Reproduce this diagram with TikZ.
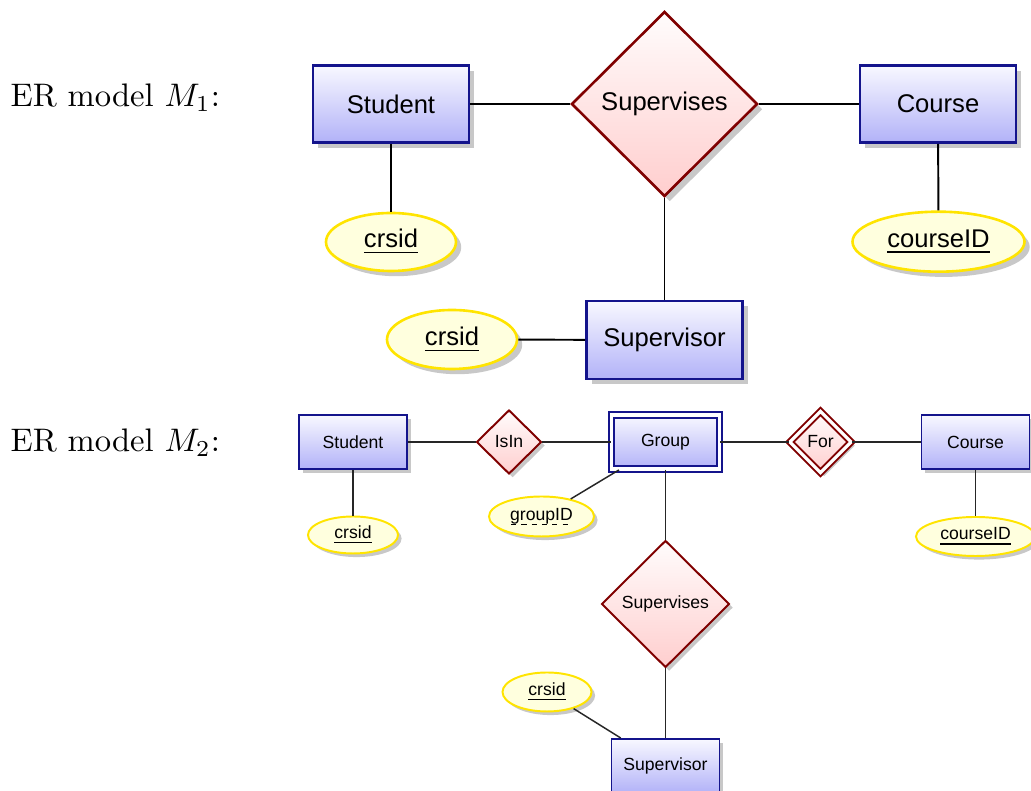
\documentclass[tikz,border=0pt]{standalone}
\usepackage{fontspec}
\newfontfamily\erfont{Liberation Sans}
\usetikzlibrary{shapes.geometric,shadows}
\newcommand\pxu{0.3067pt}
\newcommand\dul[1]{\setbox0\hbox{#1}\rlap{\raisebox{-1.5pt}{\hbox to \wd0{\xleaders\hbox{\rule{1.6pt}{0.3pt}\hspace{1.3pt}}\hfill}}}\box0}
\definecolor{entborder}{RGB}{20,20,140}
\definecolor{enttop}{RGB}{248,248,255}
\definecolor{entbot}{RGB}{178,178,248}
\definecolor{relborder}{RGB}{128,0,0}
\definecolor{reltop}{RGB}{255,252,252}
\definecolor{relbot}{RGB}{255,206,206}
\definecolor{attborder}{RGB}{255,228,0}
\definecolor{attfill}{RGB}{255,255,222}
\definecolor{shadowgrey}{RGB}{200,200,200}
\tikzset{
  bigfont/.style={font=\erfont\fontsize{7.85}{9}\selectfont},
  smallfont/.style={font=\erfont\fontsize{5.4}{6.5}\selectfont},
  bigshadow/.style={drop shadow={shadow xshift=1.6pt,shadow yshift=-1.6pt,fill=shadowgrey,opacity=1}},
  smallshadow/.style={drop shadow={shadow xshift=1.1pt,shadow yshift=-1.1pt,fill=shadowgrey,opacity=1}},
  entity/.style={rectangle,draw=entborder,top color=enttop,bottom color=entbot,inner sep=0pt},
  rel/.style={diamond,draw=relborder,top color=reltop,bottom color=relbot,inner sep=0pt},
  attr/.style={ellipse,draw=attborder,fill=attfill,inner sep=0pt},
  bigent/.style={entity,bigfont,bigshadow,line width=0.8pt,minimum width=156*\pxu,minimum height=77*\pxu},
  smallent/.style={entity,smallfont,smallshadow,line width=0.6pt,minimum width=108*\pxu,minimum height=54*\pxu},
  bigrel/.style={rel,bigfont,bigshadow,line width=0.8pt},
  smallrel/.style={rel,smallfont,smallshadow,line width=0.6pt},
  bigattr/.style={attr,bigfont,bigshadow,line width=0.8pt},
  smallattr/.style={attr,smallfont,smallshadow,line width=0.6pt},
  bigline/.style={line width=0.6pt,black},
  smallline/.style={line width=0.45pt,black!85},
  heading/.style={anchor=base west,inner sep=0pt,font=\fontsize{10}{12}\selectfont}
}
\begin{document}
\begin{tikzpicture}[x=0.3067pt,y=-0.3067pt]
\path[use as bounding box] (0,0) rectangle (1031,791);

% ---------- ER model M1 ----------
\node[heading] (h1) at (10,106.7) {ER model $M_1$:};
\node[bigent] (stu1) at (391,104) {Student};
\node[bigrel,minimum width=186*\pxu,minimum height=185*\pxu] (sup1) at (664.5,104) {Supervises};
\node[bigent] (crs1) at (938,104) {Course};
\node[bigattr,minimum width=130*\pxu,minimum height=58*\pxu] (sid1) at (391,242) {\underline{crsid}};
\node[bigattr,minimum width=172*\pxu,minimum height=60*\pxu] (cid1) at (938.5,241.7) {\underline{courseID}};
\node[bigent,minimum height=78*\pxu] (svr1) at (664.5,340) {Supervisor};
\node[bigattr,minimum width=130*\pxu,minimum height=59*\pxu] (vid1) at (452,339.5) {\underline{crsid}};

\draw[bigline] (stu1) -- (sup1);
\draw[bigline] (sup1) -- (crs1);
\draw[bigline] (stu1) -- (sid1);
\draw[bigline] (crs1) -- (cid1);
\draw[bigline] (sup1) -- (svr1);
\draw[bigline] (vid1) -- (svr1);

% ---------- ER model M2 ----------
\node[heading] (h2) at (10,451.7) {ER model $M_2$:};
\node[smallent] (stu2) at (353,442) {Student};
\node[smallrel,minimum width=65*\pxu,minimum height=64*\pxu] (isin) at (509,442) {IsIn};
\node[smallent,double=white,double distance=1pt] (grp) at (665.5,442) {Group};
\node[smallrel,double=white,double distance=1pt,minimum width=62*\pxu,minimum height=62*\pxu] (for) at (820.5,442) {For};
\node[smallent] (crs2) at (975.5,442) {Course};
\node[smallattr,minimum width=90*\pxu,minimum height=37*\pxu] (sid2) at (353,535) {\underline{crsid}};
\node[smallattr,minimum width=105*\pxu,minimum height=40*\pxu] (gid) at (541.5,516.5) {\dul{groupID}};
\node[smallattr,minimum width=119*\pxu,minimum height=39*\pxu] (cid2) at (975.5,536.5) {\underline{courseID}};
\node[smallrel,minimum width=128*\pxu,minimum height=127*\pxu] (sup2) at (665.5,604) {Supervises};
\node[smallent] (svr2) at (665.5,766) {Supervisor};
\node[smallattr,minimum width=89*\pxu,minimum height=39*\pxu] (vid2) at (547,692) {\underline{crsid}};

\draw[smallline] (stu2) -- (isin);
\draw[smallline] (isin) -- (grp);
\draw[smallline] (grp) -- (for);
\draw[smallline] (for) -- (crs2);
\draw[smallline] (stu2) -- (sid2);
\draw[smallline] (crs2) -- (cid2);
\draw[smallline] (gid) -- (grp);
\draw[smallline] (grp) -- (sup2);
\draw[smallline] (sup2) -- (svr2);
\draw[smallline] (vid2) -- (svr2);
\end{tikzpicture}
\end{document}
